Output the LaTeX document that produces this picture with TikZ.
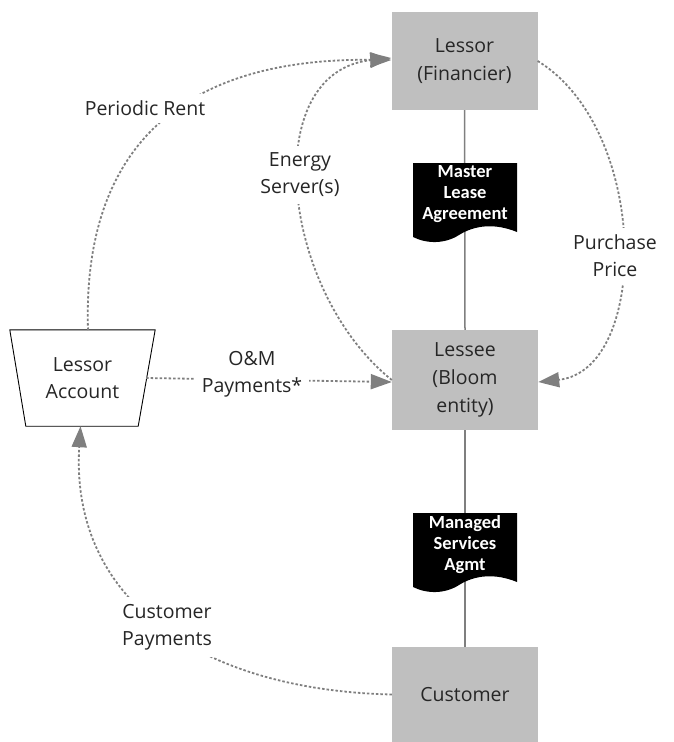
\documentclass[tikz,border=0pt]{standalone}
\usepackage{fontspec}
\setmainfont{Open Sans}
\newfontfamily\docfont{Carlito}
\usetikzlibrary{arrows.meta}
\definecolor{boxgray}{HTML}{BFBFBF}
\definecolor{txt}{HTML}{262626}
\definecolor{linegray}{HTML}{7F7F7F}
\tikzset{
  gbox/.style={fill=boxgray, minimum width=146pt, inner sep=0pt, align=center, text=txt,
    font=\fontsize{19.5}{28}\selectfont},
  lbl/.style={fill=white, inner sep=7pt, align=center, text=txt,
    font=\fontsize{19.5}{27}\selectfont},
  flow/.style={draw=linegray, line width=1.8pt, dash pattern=on 2.5pt off 2pt},
  tip/.style={-{Triangle[length=21pt,width=15pt,fill=linegray,color=linegray]}},
  link/.style={draw=linegray, line width=1.5pt},
  doctext/.style={text=white, align=center, font=\docfont\bfseries\fontsize{18.5}{21}\selectfont},
  docshape/.style={fill=black},
}
\begin{document}
\begin{tikzpicture}[x=1pt,y=-1pt]
\useasboundingbox (0,0) rectangle (673,742);
% boxes
\node[gbox, minimum height=98pt] (lessor) at (464.5,61) {Lessor\\(Financier)};
\node[gbox, minimum height=100pt] (lessee) at (465,380) {Lessee\\(Bloom\\entity)};
\node[gbox, minimum height=95pt] (cust) at (465,694.5) {Customer};
% lessor account
\node[minimum width=145pt, minimum height=96pt, inner sep=0pt, align=center, text=txt,
  font=\fontsize{19.5}{27}\selectfont] (la) at (82.5,378) {Lessor\\Account};
\draw[line width=0.9pt] (la.north west) -- (la.north east) -- ([xshift=-17pt]la.south east)
  -- ([xshift=16pt]la.south west) -- cycle;
% vertical links
\draw[link] (lessor.south) -- (lessee.north);
\draw[link] (lessee.south) -- (cust.north);
% documents
\begin{scope}[shift={(465,163)}]
\fill[docshape] (-52,0) -- (52,0) -- (52,69)
  .. controls (30,60) and (10,62) .. (-6,72)
  .. controls (-20,81) and (-38,81) .. (-52,74) -- cycle;
\end{scope}
\node[doctext] (mlat) at (465,194) {Master\\Lease\\Agreement};
\begin{scope}[shift={(465,513)}]
\fill[docshape] (-52,0) -- (52,0) -- (52,69)
  .. controls (30,60) and (10,62) .. (-6,72)
  .. controls (-20,81) and (-38,81) .. (-52,74) -- cycle;
\end{scope}
\node[doctext] (msat) at (465,545) {Managed\\Services\\Agmt};
% flows
\coordinate (prStart) at (88,330);
\draw[flow, tip] (prStart) .. controls (82,140) and (190,58) .. ([yshift=1pt]lessor.west);
\draw[flow, tip] (lessee.west) .. controls (280,290) and (258,72) .. ([yshift=3pt]lessor.west);
\draw[flow, tip] (lessor.east) .. controls (650,130) and (650,370) .. ([yshift=-2pt]lessee.east);
\draw[flow, tip] ([xshift=-9pt]la.east) -- ([yshift=-2pt]lessee.west);
\draw[flow, tip] (cust.west) .. controls (200,690) and (70,600) .. ([xshift=-2pt]la.south);
% labels
\node[lbl] (prl) at (145,108) {Periodic Rent};
\node[lbl] (esl) at (300,175) {Energy\\Server(s)};
\node[lbl] (ppl) at (615,256) {Purchase\\Price};
\node[lbl] (oml) at (252,374) {O\&M\\Payments*};
\node[lbl] (cpl) at (167,627) {Customer\\Payments};
\end{tikzpicture}
\end{document}
